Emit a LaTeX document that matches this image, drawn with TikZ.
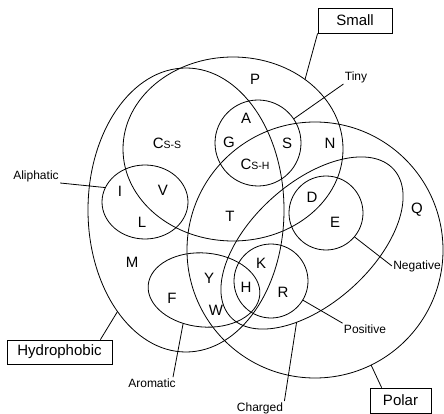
\documentclass[tikz,border=0pt]{standalone}
\usepackage{fontspec}
\setmainfont{Liberation Sans}
\usetikzlibrary{shapes.geometric}

\begin{document}
\begin{tikzpicture}[x=1pt,y=-1pt,line width=0.8pt,
	set node/.style={draw,ellipse,inner sep=0pt,outer sep=0pt},
	ring node/.style={draw,circle,inner sep=0pt,outer sep=0pt},
	box node/.style={draw,rectangle,inner sep=0pt,font=\fontsize{15}{15}\selectfont},
	tag node/.style={inner sep=1pt,font=\fontsize{12}{12}\selectfont},
	aa node/.style={inner sep=0pt,font=\fontsize{15}{15}\selectfont}]

	\useasboundingbox (0,0) rectangle (444,414);

	% the sets
	\node[set node,minimum width=196pt,minimum height=284pt] (hydro) at (186,210) {};
	\node[set node,minimum width=220pt,minimum height=184pt] (small) at (233,149) {};
	\node[ring node,minimum size=86pt] (tiny) at (258,143) {};
	\node[set node,minimum width=86pt,minimum height=74pt] (aliph) at (145,202) {};
	\node[ring node,minimum size=256pt] (polar) at (315,250) {};
	\node[set node,minimum width=220pt,minimum height=120pt,rotate=42] (charged) at (312,243) {};
	\node[ring node,minimum size=74pt] (neg) at (326,213) {};
	\node[ring node,minimum size=74pt] (pos) at (271,281) {};
	\node[set node,minimum width=112pt,minimum height=74pt,rotate=-5] (arom) at (204,290) {};

	% the amino acids
	\node[aa node] (P) at (255,79) {P};
	\node[aa node] (A) at (246,118) {A};
	\node[aa node] (G) at (229,142) {G};
	\node[aa node] (Css) at (167,143) {C{\fontsize{10.5}{10.5}\selectfont S-S}};
	\node[aa node] (S) at (287,143) {S};
	\node[aa node] (Csh) at (255,164) {C{\fontsize{10.5}{10.5}\selectfont S-H}};
	\node[aa node] (N) at (330,143) {N};
	\node[aa node] (I) at (120,191) {I};
	\node[aa node] (V) at (163,190) {V};
	\node[aa node] (L) at (142,222) {L};
	\node[aa node] (T) at (230,216) {T};
	\node[aa node] (D) at (312,197) {D};
	\node[aa node] (E) at (335,222) {E};
	\node[aa node] (Q) at (417,210) {Q};
	\node[aa node] (M) at (132,262) {M};
	\node[aa node] (K) at (261,263) {K};
	\node[aa node] (Y) at (209,278) {Y};
	\node[aa node] (H) at (246,287) {H};
	\node[aa node] (R) at (283,292) {R};
	\node[aa node] (F) at (172,298) {F};
	\node[aa node] (W) at (216,310) {W};

	% the labels
	\node[box node,minimum width=74pt,minimum height=25pt] (smallbox) at (355,20.5) {Small};
	\node[box node,minimum width=105pt,minimum height=24pt] (hydrobox) at (59.5,352) {Hydrophobic};
	\node[box node,minimum width=61pt,minimum height=25pt] (polarbox) at (400.5,400.5) {Polar};
	\node[tag node] (tinylbl) at (356,77) {Tiny};
	\node[tag node] (aliphlbl) at (36,176) {Aliphatic};
	\node[tag node] (neglbl) at (417,266) {Negative};
	\node[tag node] (poslbl) at (365,329) {Positive};
	\node[tag node] (aromlbl) at (152,383) {Aromatic};
	\node[tag node] (chglbl) at (260,408) {Charged};

	\draw (smallbox.south west) -- (small.44);
	\draw ([xshift=-12pt]hydrobox.north east) -- (hydro.236);
	\draw ([xshift=12pt]polarbox.north west) -- (polar.296);
	\draw (tinylbl.south west) -- (tiny.34);
	\draw (aliphlbl.south east) -- (aliph.160);
	\draw (neglbl.west) -- (neg.320);
	\draw (poslbl.north west) -- (pos.329);
	\draw ([xshift=21pt]aromlbl.north) -- (arom.243);
	\draw (chglbl.north east) -- (charged.217);
\end{tikzpicture}
\end{document}
